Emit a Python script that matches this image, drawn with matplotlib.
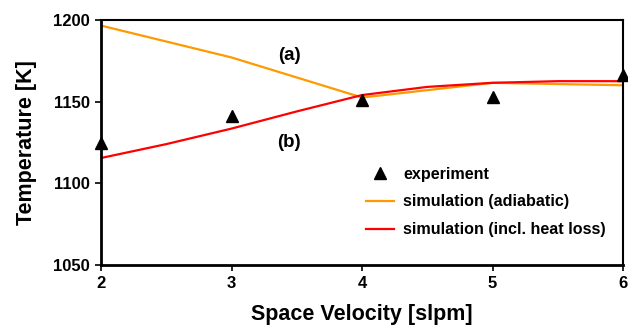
import matplotlib
matplotlib.use("Agg")
import matplotlib.pyplot as plt

plt.rcParams['font.family'] = ['Liberation Sans', 'DejaVu Sans']

# data
exp_x = [2, 3, 4, 5, 6]
exp_t = [1124.5, 1141, 1151, 1153, 1166]

adia_x = [2, 3, 4, 5, 6]
adia_t = [1196.5, 1177, 1152.5, 1161.5, 1160]

loss_x = [2, 2.5, 3, 3.5, 4, 4.5, 5, 5.5, 6]
loss_t = [1115.5, 1124, 1133.5, 1144, 1154, 1159, 1161.5, 1162.5, 1162.5]

fig = plt.figure(figsize=(6.28, 3.26), dpi=100)
ax = fig.add_axes([0.161, 0.187, 0.831, 0.752])

ax.plot(adia_x, adia_t, color='#ff9900', lw=1.6, label='simulation (adiabatic)')
ax.plot(loss_x, loss_t, color='#ff0000', lw=1.6, label='simulation (incl. heat loss)')
ax.plot(exp_x, exp_t, ls='none', marker='^', color='black', ms=9,
        clip_on=False, label='experiment', zorder=5)

ax.set_xlim(2, 6)
ax.set_ylim(1050, 1200)
ax.set_xticks([2, 3, 4, 5, 6])
ax.set_yticks([1050, 1100, 1150, 1200])
ax.tick_params(direction='out', length=4, width=1.2, labelsize=12, pad=4)
for lab in ax.get_xticklabels() + ax.get_yticklabels():
    lab.set_fontweight('bold')
for side in ['left', 'bottom']:
    ax.spines[side].set_linewidth(2)
for side in ['top', 'right']:
    ax.spines[side].set_linewidth(1.5)

ax.set_xlabel('Space Velocity [slpm]', fontsize=15.5, fontweight='bold', labelpad=9)
ax.set_ylabel('Temperature [K]', fontsize=15.5, fontweight='bold', labelpad=12)

ax.text(3.44, 1178, '(a)', fontsize=13.5, fontweight='bold', ha='center', va='center')
ax.text(3.44, 1125, '(b)', fontsize=13.5, fontweight='bold', ha='center', va='center')

h, l = ax.get_legend_handles_labels()
order = [2, 0, 1]
leg = ax.legend([h[i] for i in order], [l[i] for i in order], loc='lower right',
                frameon=False, fontsize=11.6, handlelength=1.7, handletextpad=0.6,
                bbox_to_anchor=(0.995, 0.054), labelspacing=0.8)
for t in leg.get_texts():
    t.set_fontweight('bold')

fig.savefig('out.png', dpi=100)
